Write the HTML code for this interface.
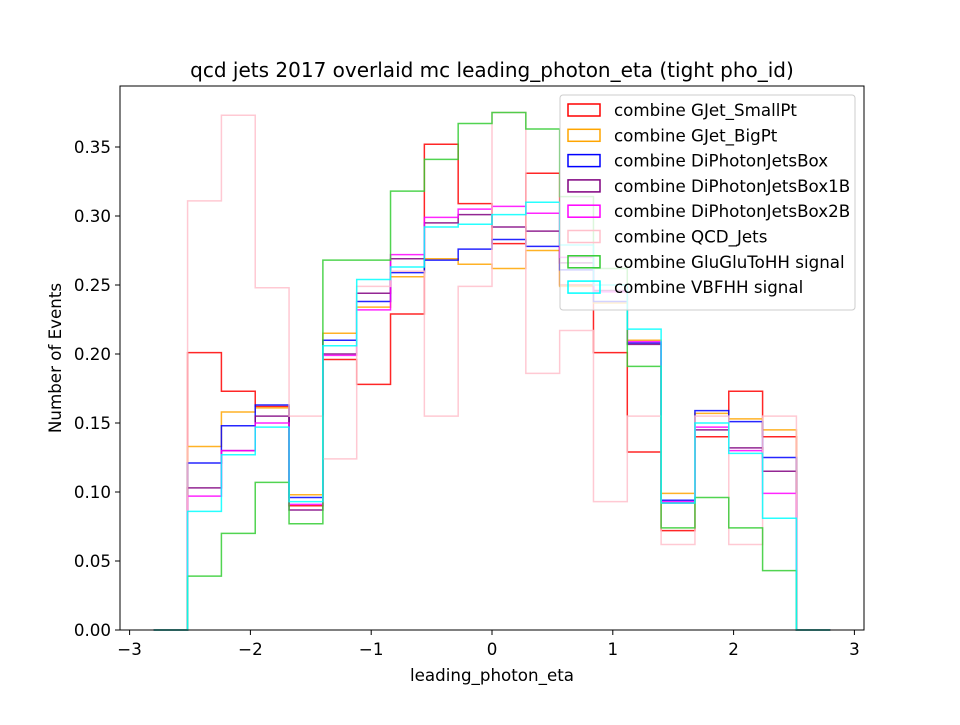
<!DOCTYPE html>
<html><head><meta charset="utf-8"><style>
body{margin:0;background:#fff;}
svg text{font-family:"DejaVu Sans","Liberation Sans",sans-serif;}
</style></head><body>
<svg id="chart" width="960" height="720" xmlns="http://www.w3.org/2000/svg">
<rect width="960" height="720" fill="#fff"/>
<text x="492" y="77" font-size="20" text-anchor="middle">qcd jets 2017 overlaid mc leading_photon_eta (tight pho_id)</text>
<g id="marks"></g>
<g id="axes"></g>
<rect x="120" y="86" width="744" height="544" fill="none" stroke="#000" stroke-width="1"/>
<text x="492" y="681" font-size="16.7" text-anchor="middle">leading_photon_eta</text>
<text x="0" y="0" font-size="16.7" text-anchor="middle" transform="translate(61,358) rotate(-90)">Number of Events</text>
<g id="legend"></g>
</svg>
<script>
const binStart = -2.8, binWidth = 0.28, nBins = 20;
const seriesNames = ["combine GJet_SmallPt","combine GJet_BigPt","combine DiPhotonJetsBox","combine DiPhotonJetsBox1B","combine DiPhotonJetsBox2B","combine QCD_Jets","combine GluGluToHH signal","combine VBFHH signal"];
const seriesColors = ["red","orange","blue","purple","magenta","pink","#33cc33","cyan"];
const sGJetSmall = [0,0.201,0.173,0.162,0.090,0.196,0.178,0.229,0.352,0.309,0.280,0.331,0.250,0.201,0.129,0.072,0.140,0.173,0.140,0];
const sGJetBig = [0,0.133,0.158,0.161,0.098,0.215,0.234,0.256,0.269,0.265,0.262,0.275,0.249,0.237,0.210,0.099,0.157,0.153,0.145,0];
const sDiPho = [0,0.121,0.148,0.163,0.096,0.210,0.238,0.259,0.268,0.276,0.283,0.278,0.261,0.238,0.208,0.094,0.159,0.151,0.125,0];
const sDiPho1B = [0,0.103,0.130,0.155,0.087,0.200,0.244,0.269,0.295,0.301,0.292,0.289,0.266,0.246,0.207,0.092,0.145,0.132,0.115,0];
const sDiPho2B = [0,0.097,0.130,0.150,0.091,0.199,0.232,0.272,0.299,0.305,0.307,0.302,0.270,0.245,0.209,0.093,0.147,0.130,0.099,0];
const sQCD = [0,0.311,0.373,0.248,0.155,0.124,0.249,0.260,0.155,0.249,0.375,0.186,0.217,0.093,0.155,0.062,0.155,0.062,0.155,0];
const sGGHH = [0,0.039,0.070,0.107,0.077,0.268,0.268,0.318,0.341,0.367,0.375,0.363,0.314,0.262,0.191,0.074,0.096,0.074,0.043,0];
const sVBF = [0,0.086,0.127,0.147,0.093,0.206,0.254,0.263,0.292,0.294,0.301,0.310,0.279,0.250,0.218,0.092,0.150,0.128,0.081,0];
const allSeries = [sGJetSmall,sGJetBig,sDiPho,sDiPho1B,sDiPho2B,sQCD,sGGHH,sVBF];
const xTicks = [-3,-2,-1,0,1,2,3];
const xTickLabels = ["\u22123","\u22122","\u22121","0","1","2","3"];
const yTicks = [0,0.05,0.10,0.15,0.20,0.25,0.30,0.35];
const yTickLabels = ["0.00","0.05","0.10","0.15","0.20","0.25","0.30","0.35"];

const NS="http://www.w3.org/2000/svg";
function xs(v){return 492+v*120.8;}
function ys(v){return 630-v*1380;}
const marks=document.getElementById('marks');
allSeries.forEach((s,i)=>{
  let d="M"+xs(binStart)+","+ys(0);
  for(let b=0;b<nBins;b++){
    const x0=xs(binStart+b*binWidth), x1=xs(binStart+(b+1)*binWidth);
    d+=" L"+x0+","+ys(s[b])+" L"+x1+","+ys(s[b]);
  }
  d+=" L"+xs(binStart+nBins*binWidth)+","+ys(0);
  const p=document.createElementNS(NS,'path');
  p.setAttribute('d',d);p.setAttribute('fill','none');
  p.setAttribute('stroke',seriesColors[i]);p.setAttribute('stroke-width','1.5');p.setAttribute('stroke-opacity','0.85');
  
  
  marks.appendChild(p);
});
const axes=document.getElementById('axes');
xTicks.forEach((t,i)=>{
  const x=xs(t);
  const l=document.createElementNS(NS,'line');
  l.setAttribute('x1',x);l.setAttribute('x2',x);l.setAttribute('y1',630);l.setAttribute('y2',635);l.setAttribute('stroke','#000');
  
  
  axes.appendChild(l);
  const tx=document.createElementNS(NS,'text');
  tx.setAttribute('x',x);tx.setAttribute('y',655);tx.setAttribute('font-size','16.7');tx.setAttribute('text-anchor','middle');
  tx.textContent=xTickLabels[i];
  
  
  axes.appendChild(tx);
});
yTicks.forEach((t,i)=>{
  const y=ys(t);
  const l=document.createElementNS(NS,'line');
  l.setAttribute('x1',115);l.setAttribute('x2',120);l.setAttribute('y1',y);l.setAttribute('y2',y);l.setAttribute('stroke','#000');
  
  
  axes.appendChild(l);
  const tx=document.createElementNS(NS,'text');
  tx.setAttribute('x',111);tx.setAttribute('y',y+6);tx.setAttribute('font-size','16.7');tx.setAttribute('text-anchor','end');
  tx.textContent=yTickLabels[i];
  
  
  axes.appendChild(tx);
});
const lg=document.getElementById('legend');
const box=document.createElementNS(NS,'rect');
box.setAttribute('x',560);box.setAttribute('y',95);box.setAttribute('width',295);box.setAttribute('height',215);box.setAttribute('rx',3);
box.setAttribute('fill','#fff');box.setAttribute('fill-opacity','0.8');box.setAttribute('stroke','#ccc');


lg.appendChild(box);
seriesNames.forEach((n,i)=>{
  const y=110+i*25.3;
  const r=document.createElementNS(NS,'rect');
  r.setAttribute('x',568);r.setAttribute('y',y-6);r.setAttribute('width',32);r.setAttribute('height',12);
  r.setAttribute('fill','none');r.setAttribute('stroke',seriesColors[i]);r.setAttribute('stroke-width','1.5');
  
  
  lg.appendChild(r);
  const t=document.createElementNS(NS,'text');
  t.setAttribute('x',614);t.setAttribute('y',y+6);t.setAttribute('font-size','16.7');
  t.textContent=n;
  
  
  lg.appendChild(t);
});
</script>
</body></html>
